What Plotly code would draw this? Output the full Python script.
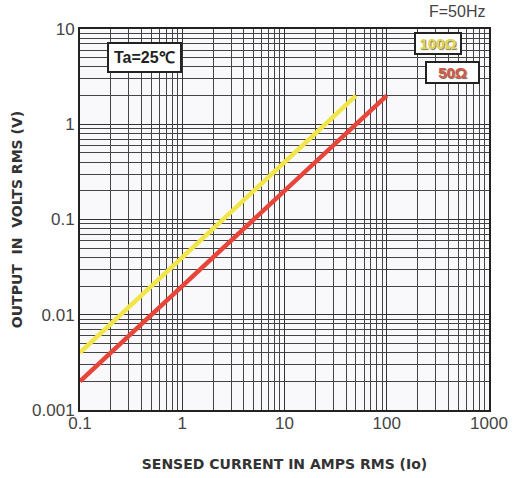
import plotly.graph_objects as go

# Data
current_100 = [0.1, 50]
volts_100 = [0.004, 2]
current_50 = [0.1, 100]
volts_50 = [0.002, 2]
x_ticks = [0.1, 1, 10, 100, 1000]
x_tick_labels = ["0.1", "1", "10", "100", "1000"]
y_ticks = [0.001, 0.01, 0.1, 1, 10]
y_tick_labels = ["0.001", "0.01", "0.1", "1", "10"]

FONT = "Liberation Sans, Arial, sans-serif"
TFONT = "DejaVu Sans, sans-serif"

fig = go.Figure()
fig.add_trace(go.Scatter(x=current_100, y=volts_100, mode="lines",
                         line=dict(color="#f2e54a", width=4.5), showlegend=False))
fig.add_trace(go.Scatter(x=current_50, y=volts_50, mode="lines",
                         line=dict(color="#e8453a", width=4.5), showlegend=False))

axis_common = dict(
    type="log", showline=True, linecolor="#222", linewidth=2, mirror=True,
    showgrid=True, gridcolor="#333", gridwidth=1.3, zeroline=False, automargin=False,
    ticks="", tickfont=dict(family=FONT, size=17, color="#444"),
    minor=dict(dtick="D1", showgrid=True, gridcolor="#444", gridwidth=1, ticks=""),
)

fig.update_xaxes(range=[-1, 3], tickvals=x_ticks, ticktext=x_tick_labels,
                 ticklabelstandoff=-3,
                 title=dict(text="<b>SENSED CURRENT IN AMPS RMS (Io)</b>",
                            font=dict(family=TFONT, size=14, color="#333"), standoff=27),
                 **axis_common)
fig.update_yaxes(range=[-3, 1], tickvals=y_ticks, ticktext=y_tick_labels,
                 title=dict(text="<b>OUTPUT  IN  VOLTS RMS (V)</b>",
                            font=dict(family=TFONT, size=14, color="#333"), standoff=6),
                 **axis_common)

fig.add_annotation(x=0.066, y=0.966, xref="paper", yref="paper", xanchor="left", yanchor="top",
                   text="<b>Ta=25℃</b>", showarrow=False,
                   font=dict(family=FONT, size=16, color="#222"),
                   bgcolor="white", bordercolor="#222", borderwidth=2, borderpad=5)
fig.add_annotation(x=0.995, y=1.045, xref="paper", yref="paper", xanchor="right", yanchor="middle",
                   text="F=50Hz", showarrow=False,
                   font=dict(family=FONT, size=16, color="#444"))
fig.add_annotation(x=0.934, y=0.992, xref="paper", yref="paper", xanchor="right", yanchor="top",
                   text="<b>100Ω</b>", showarrow=False, width=42,
                   font=dict(family=FONT, size=15, color="#e2d64e", shadow="1px 1px 1px #776"),
                   bgcolor="white", bordercolor="#222", borderwidth=2, borderpad=1)
fig.add_annotation(x=0.978, y=0.916, xref="paper", yref="paper", xanchor="right", yanchor="top",
                   text="<b>50Ω</b>", showarrow=False, width=49,
                   font=dict(family=FONT, size=15, color="#d0584a", shadow="1px 1px 1px #765"),
                   bgcolor="white", bordercolor="#222", borderwidth=2, borderpad=1)

fig.update_layout(
    width=514, height=478,
    margin=dict(l=80, r=25, t=29, b=68),
    paper_bgcolor="white", plot_bgcolor="#f9f9fb",
    font=dict(family=FONT),
)

fig.write_html("out.html", config={"displayModeBar": False},
               post_script="document.body.style.margin='0';")
